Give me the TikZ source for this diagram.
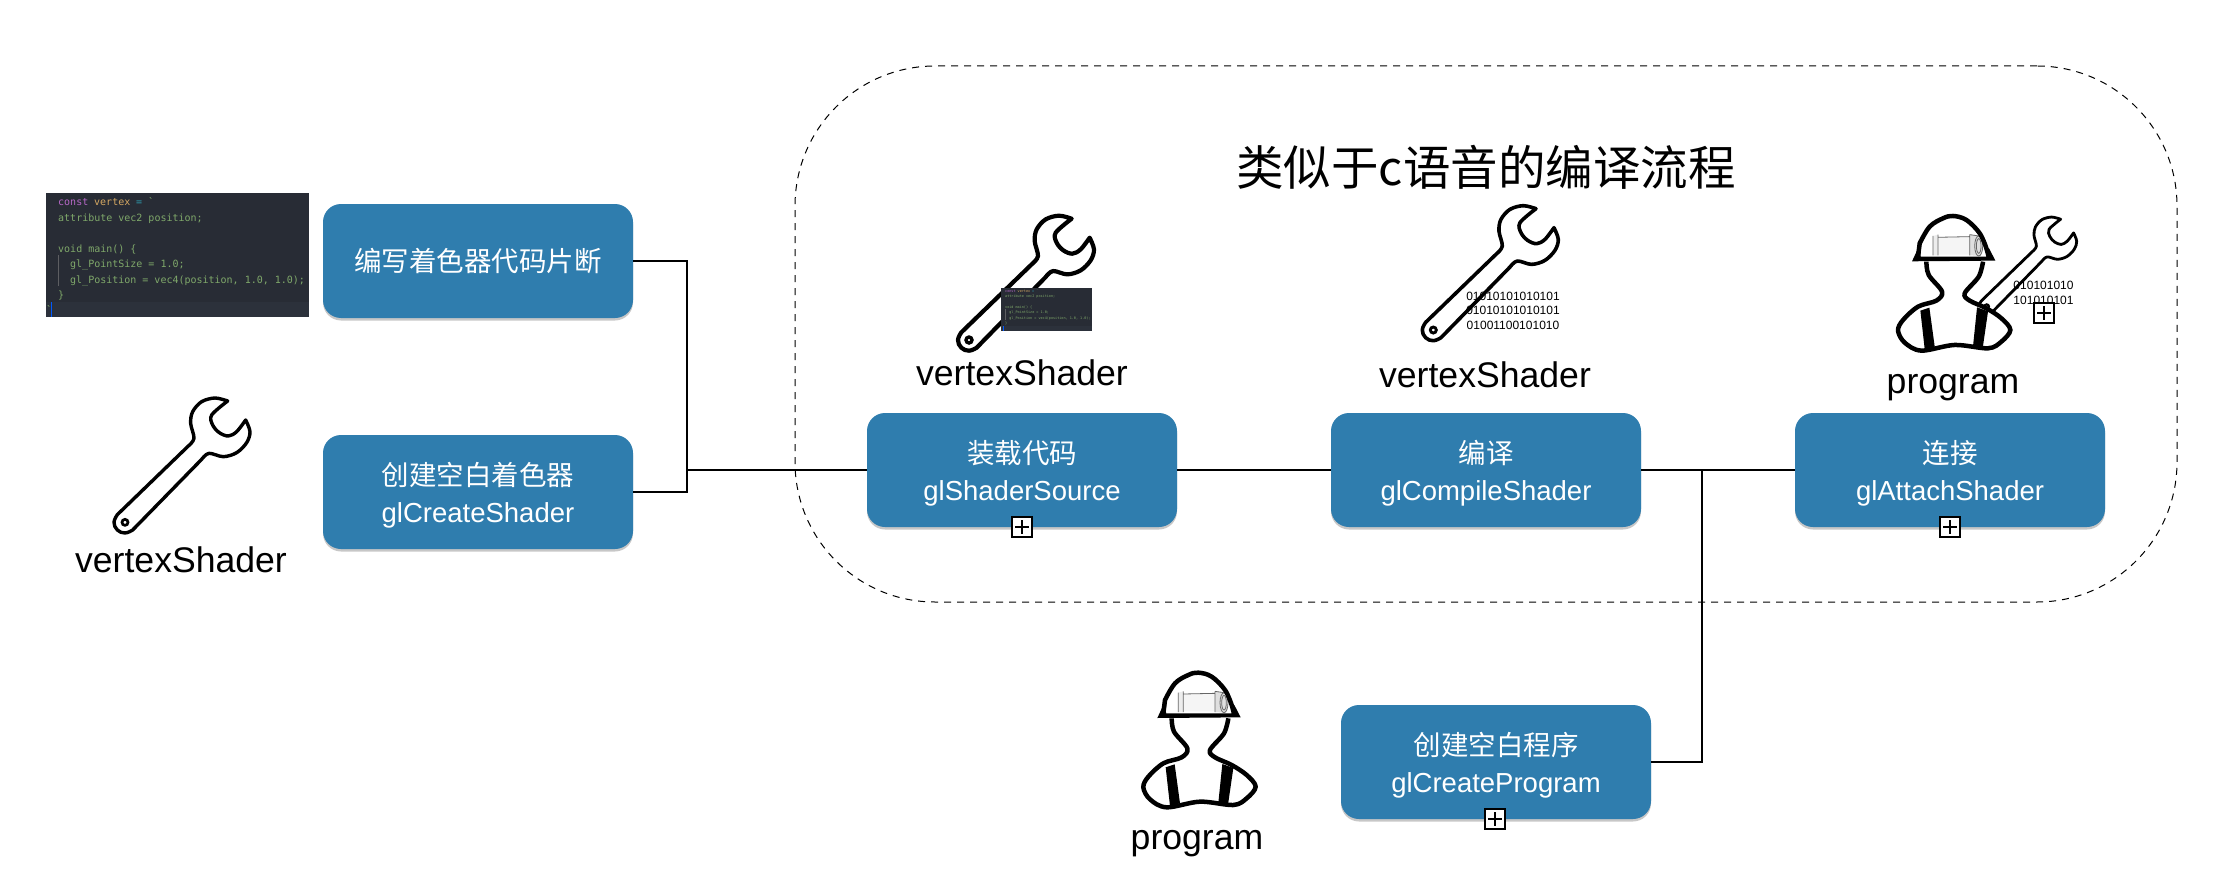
\documentclass[tikz,border=0pt]{standalone}
\usepackage{fontspec}
\setmainfont{Liberation Sans}
\setmonofont{DejaVu Sans Mono}
\newfontfamily\cjk{Noto Sans CJK SC}
\usetikzlibrary{shadows,calc}
\definecolor{boxblue}{HTML}{2F7DAE}
\definecolor{codebg}{HTML}{282C35}
\definecolor{codebgb}{HTML}{2C313B}
\definecolor{codegreen}{HTML}{7FA86A}
\definecolor{codepurple}{HTML}{B768C8}
\definecolor{codeyellow}{HTML}{D5A862}
\definecolor{codeteal}{HTML}{2E9DB0}
\newcommand{\lift}{\rule{0pt}{30pt}}
\tikzset{
  stepbox/.style={draw=none,fill=boxblue,rounded corners=18pt,text=white,align=center,
    minimum width=310pt,minimum height=114pt,inner sep=0pt,font=\fontsize{27.5}{37}\selectfont,
    drop shadow={shadow xshift=0pt,shadow yshift=-2.5pt,fill=black,opacity=.22}},
  link/.style={draw=black,line width=2pt},
  caption/.style={font=\fontsize{35.6}{40}\selectfont,text=black,inner sep=0pt},
  bits/.style={font=\fontsize{12}{14.5}\selectfont,text=black,inner sep=0pt,align=center},
  plusbox/.style={draw=black,fill=white,line width=2pt,minimum size=20pt,inner sep=0pt,
    path picture={\draw[line width=1.6pt] ($(path picture bounding box.west)+(3pt,0)$) -- ($(path picture bounding box.east)+(-3pt,0)$)
      ($(path picture bounding box.north)+(0,-3pt)$) -- ($(path picture bounding box.south)+(0,3pt)$);}},
  codeline/.style={anchor=base west,inner sep=0pt,font=\fontsize{10}{12}\selectfont\ttfamily,text=codegreen,transform shape},
}
% wrench, in coordinates of a 3x crop
\newcommand{\wrenchicon}[4]{%
  \begin{scope}[shift={(#1,#2)},scale=#3/3]
    \draw[line width=#4pt,line join=round,fill=white]
      plot[smooth,tension=.55] coordinates{(503,93)(465,84)(425,95)(398,125)(392,160)(402,205)(385,228)}
      -- plot[smooth,tension=.7] coordinates{(172,434)(162,457)(172,480)(195,489)(218,480)}
      -- plot[smooth,tension=.55] coordinates{(425,268)(447,250)(490,260)(530,248)(560,218)(570,185)(557,150)}
      -- plot[smooth,tension=.55] coordinates{(557,150)(530,185)(505,198)(478,188)(458,165)(455,135)(503,93)} -- cycle;
    \draw[line width=#4pt*.8] (195,457) circle (9);
  \end{scope}}
% worker, in coordinates of a 3x crop
\newcommand{\workericon}[2]{%
  \begin{scope}[shift={(#1,#2)},scale=1/3]
    \draw[line width=4.5pt,line join=round,fill=white]
      plot[smooth,tension=.55] coordinates{(215,205)(222,245)(262,295)(245,322)(190,340)(145,380)(130,412)(150,448)(200,472)(300,455)(400,465)(440,445)(467,410)(440,375)(395,345)(345,322)(330,300)(372,250)(385,205)};
    \fill (197,352) -- (224,343) -- (240,460) -- (210,468) -- cycle;
    \fill (367,342) -- (400,354) -- (384,464) -- (355,458) -- cycle;
    \fill[white] (195,200) -- plot[smooth,tension=.6] coordinates{(195,150)(225,100)(265,75)(295,68)(335,80)(375,120)(395,165)} -- (400,200) -- cycle;
    \fill[gray!8] (250,132) -- (345,130) -- (345,184) -- (250,184) -- cycle;
    \fill[gray!14] (235,128) -- (250,124) -- (250,186) -- (235,186) -- cycle;
    \fill[gray!25] (345,124) -- (372,128) -- (385,160) -- (378,188) -- (345,186) -- cycle;
    \draw[gray!80!black,line width=.8pt] (235,128) -- (235,186) (250,124) -- (250,186) (250,132) -- (345,130) (345,124) -- (345,186) (345,124) -- (372,128);
    \draw[gray!80!black,line width=.8pt] (372,158) ellipse (12 and 30) (372,158) ellipse (7 and 22);
    \draw[line width=4.5pt,line join=round] (190,190) -- plot[smooth,tension=.6] coordinates{(195,150)(225,100)(265,75)(295,68)(335,80)(375,120)(395,165)} -- (402,190);
    \fill (172,204) -- (190,165) -- (198,165) -- (198,190) -- (395,190) -- (395,165) -- (403,165) -- (422,202) -- cycle;
    \fill[white] (198,186) -- (205,150) -- (205,186) -- cycle;
  \end{scope}}
\newcommand{\codeimage}[4]{% name, x, y, scale
  \begin{scope}[shift={(#2,#3)},scale=#4]
    \fill[codebg] (0,0) rectangle (263,124);
    \fill[codebgb] (0,109) rectangle (263,124);
    \fill[blue!65!cyan] (5,109) rectangle (6.4,124);
    \draw[gray!60!codebg,line width=.5pt] (12.5,62) -- (12.5,93);
    \node[codeline,text=codepurple] (#1a) at (12,12.5) {const};
    \node[codeline,text=codeyellow] (#1b) at (48,12.5) {vertex};
    \node[codeline,text=codeteal] (#1c) at (90,12.5) {=};
    \node[codeline] (#1d) at (102,12.5) {`};
    \node[codeline] (#1e) at (12,28) {attribute vec2 position;};
    \node[codeline] (#1f) at (12,59) {void main() \{};
    \node[codeline] (#1g) at (24,74.5) {gl\_PointSize = 1.0;};
    \node[codeline] (#1h) at (24,90) {gl\_Position = vec4(position, 1.0, 1.0);};
    \node[codeline] (#1i) at (12,105) {\}};
    \node[codeline] (#1j) at (0,120) {`};
  \end{scope}}
\begin{document}
\begin{tikzpicture}[x=1pt,y=-1pt]
\useasboundingbox (0,0) rectangle (2222,888);
\fill[white] (0,0) rectangle (2222,888);

% dashed region
\node[draw=black,dash pattern=on 7pt off 6pt,line width=1pt,rounded corners=140pt,minimum width=1382pt,minimum height=536pt,inner sep=0pt] (region) at (1486,334) {};
\node[inner sep=0pt,font=\fontsize{47.5}{50}\selectfont\cjk,text=black] (title) at (1486,167) {类似于c语音的编译流程};

% boxes
\node[stepbox] (b1) at (478,261) {\cjk 编写着色器代码片断};
\node[stepbox] (b2) at (478,492) {\lift{\cjk 创建空白着色器}\\glCreateShader};
\node[stepbox] (b3) at (1022,470) {\lift{\cjk 装载代码}\\glShaderSource};
\node[stepbox] (b4) at (1486,470) {\lift{\cjk 编译}\\glCompileShader};
\node[stepbox] (b5) at (1950,470) {\lift{\cjk 连接}\\glAttachShader};
\node[stepbox] (b6) at (1496,762) {\lift{\cjk 创建空白程序}\\glCreateProgram};

% connectors
\coordinate (j1) at (687,470);
\coordinate (j2) at (1702,470);
\draw[link] (b1.east) -| (j1);
\draw[link] (b2.east) -| (j1);
\draw[link] (j1) -- (b3.west);
\draw[link] (b3.east) -- (b4.west);
\draw[link] (b4.east) -- (b5.west);
\draw[link] (b6.east) -| (j2);

% left code image and icons
\codeimage{ca}{46}{193}{1}
\wrenchicon{60}{370}{1}{3.4}
\node[caption] (l1) at (181,560) {vertexShader};

\wrenchicon{904}{187.7}{1}{4.2}
\codeimage{cb}{1001}{288}{.346}
\node[caption] (l2) at (1022,373) {vertexShader};

\wrenchicon{1368.3}{177.7}{1}{3.6}
\node[bits] (t1) at (1513,310.5) {01010101010101\\01010101010101\\01001100101010};
\node[caption] (l3) at (1485,374.5) {vertexShader};

\wrenchicon{1939.9}{196.9}{.72}{2.8}
\workericon{1854.7}{193.3}
\node[bits] (t2) at (2043.5,293) {010101010\\101010101};
\node[caption] (l4) at (1953,388) {program};

\workericon{1100}{650}
\node[caption] (l5) at (1197,844) {program};

% plus markers
\node[plusbox] (p1) at (1022,527) {};
\node[plusbox] (p2) at (1950,527) {};
\node[plusbox] (p3) at (1495,819) {};
\node[plusbox] (p4) at (2044,313) {};
\end{tikzpicture}
\end{document}
